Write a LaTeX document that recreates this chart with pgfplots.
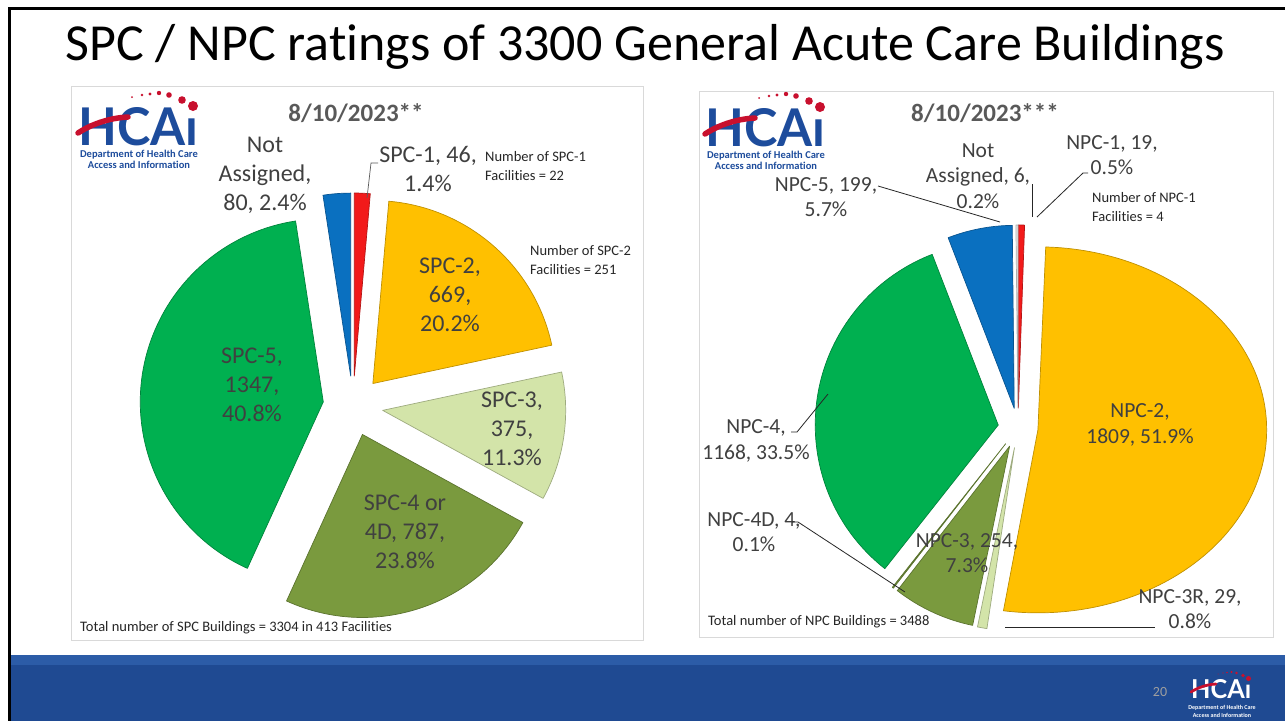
\documentclass[border=0pt]{standalone}
\usepackage{pgfplots}
\pgfplotsset{compat=1.18}
\usepackage{pgfplotstable}
\usepackage{fontspec}
\usepackage{graphicx}
\setmainfont{Carlito}[Ligatures=NoCommon]
\newfontfamily\logofont{Lato}

\definecolor{cRed}{HTML}{F21A1A}
\definecolor{cYellow}{HTML}{FFC000}
\definecolor{cLight}{HTML}{D3E4A9}
\definecolor{cOlive}{HTML}{7A9A3E}
\definecolor{cGreen}{HTML}{00B050}
\definecolor{cBlue}{HTML}{0A70C0}
\definecolor{cGray}{HTML}{E8E8E8}
\definecolor{lblgray}{HTML}{404040}
\definecolor{dategray}{HTML}{595959}
\definecolor{logoblue}{HTML}{1D4C9C}
\definecolor{logored}{HTML}{C8102E}
\definecolor{bandtop}{HTML}{2C5CA7}
\definecolor{band}{HTML}{1F4A92}
\definecolor{panel}{HTML}{D9D9D9}

\pgfplotstableread{
name value color sx
SPC1 46 cRed 1
SPC2 669 cYellow 1
SPC3 375 cLight 1
SPC4 787 cOlive 1
SPC5 1347 cGreen 1
NA 80 cBlue 1
}\spctable

\pgfplotstableread{
name value color sx
NPC1 19 cRed 1
NPC2 1809 cYellow 1.25
NPC3R 29 cLight 1
NPC3 254 cOlive 1
NPC4D 4 cOlive 1
NPC4 1168 cGreen 1
NPC5 199 cBlue 1
NA 6 cGray 1
}\npctable

% #1 table, #2 cx, #3 cy, #4 r, #5 explode, #6 total
\newcommand\drawpie[6]{%
  \pgfplotstablegetrowsof{#1}%
  \pgfmathtruncatemacro\lastrow{\pgfplotsretval-1}%
  \gdef\piecum{0}%
  \foreach \i in {0,...,\lastrow}{%
    \pgfplotstablegetelem{\i}{value}\of{#1}\let\pval\pgfplotsretval
    \pgfplotstablegetelem{\i}{color}\of{#1}\let\pcol\pgfplotsretval
    \pgfplotstablegetelem{\i}{sx}\of{#1}\let\psx\pgfplotsretval
    \pgfmathsetmacro\aA{90-360*(\piecum/#6)}%
    \pgfmathsetmacro\aB{90-360*((\piecum+\pval)/#6)}%
    \pgfmathsetmacro\aM{(\aA+\aB)/2}%
    \pgfmathsetmacro\vx{#2+#5*cos(\aM)}%
    \pgfmathsetmacro\vy{#3-#5*sin(\aM)}%
    \pgfmathsetmacro\rx{#4*\psx}%
    \fill[fill=\pcol, draw=\pcol!75!black, line width=0.7pt, line join=round]
      (axis cs:\vx,\vy) -- ++(\aA:\rx pt and #4 pt)
      arc[start angle=\aA, end angle=\aB, x radius=\rx pt, y radius=#4 pt] -- cycle;
    \pgfmathsetmacro\newcum{\piecum+\pval}%
    \xdef\piecum{\newcum}%
  }%
}

% logo: #1 x, #2 y, #3 scale, #4 text colour
\newcommand\hcai[4]{%
  \begin{scope}[shift={(axis cs:#1,#2)}, x=#3pt, y=-#3pt]
    \pgfmathsetlengthmacro\lw{120pt*#3}%
    \pgfmathsetlengthmacro\lh{38pt*#3}%
    \node[anchor=north west, inner sep=0, text=#4] at (0,0)
      {\resizebox{\lw}{\lh}{\logofont\bfseries HCA\i}};
    \draw[logored, line width=#3*5.5pt, line cap=round]
      (0,26) .. controls (12,18) and (30,11) .. (50,10);
    \fill[logored] (54,-10) circle[radius=1];
    \fill[logored] (64,-12) circle[radius=1.3];
    \fill[logored] (72,-13) circle[radius=1.7];
    \fill[logored] (81,-14) circle[radius=2.2];
    \fill[logored] (91,-12) circle[radius=2.8];
    \fill[logored] (104,-7) circle[radius=3.8];
    \fill[logored] (115,-1) circle[radius=5];
  \end{scope}%
}

\begin{document}
\begin{tikzpicture}[
  lblL/.style={font=\fontsize{24}{29}\selectfont, text=lblgray, align=center, inner sep=0},
  lblR/.style={font=\fontsize{21.5}{25.5}\selectfont, text=lblgray, align=center, inner sep=0},
  small/.style={font=\fontsize{14.5}{19}\selectfont, text=black!85, align=left, anchor=west, inner sep=0},
  date/.style={font=\bfseries\fontsize{25}{28}\selectfont, text=dategray, inner sep=0},
  sub/.style={font=\bfseries\fontsize{10.5}{10.5}\selectfont, text=logoblue, inner sep=0}]
\begin{axis}[width=1285pt,height=721pt,scale only axis,
  xmin=0,xmax=1285,ymin=0,ymax=721,y dir=reverse,hide axis,clip=false]
\pgfplotsextra{
  \fill[white] (axis cs:0,0) rectangle (axis cs:1285,721);
  % slide frame
  \fill[bandtop] (axis cs:10,655) rectangle (axis cs:1285,665);
  \fill[band] (axis cs:10,665) rectangle (axis cs:1285,721);
  \fill[black] (axis cs:8,7) rectangle (axis cs:1285,9.5);
  \fill[black] (axis cs:8,7) rectangle (axis cs:10.5,721);
  % title
  \node[font=\fontsize{52}{60}\selectfont, inner sep=0, anchor=base] at (axis cs:645,60)
    {SPC / NPC ratings of 3300 General Acute Care Buildings};
  % panels
  \draw[panel, line width=1pt] (axis cs:71,86) rectangle (axis cs:643,640);
  \draw[panel, line width=1pt] (axis cs:699,91) rectangle (axis cs:1273,637);
  % pies
  \drawpie{\spctable}{353}{406}{183}{30}{3304}
  \drawpie{\npctable}{1018}{428}{183}{20}{3488}
  % logos
  \hcai{78}{107}{1}{logoblue}
  \node[sub] at (axis cs:139,155) {Department of Health Care};
  \node[sub] at (axis cs:139,165) {Access and Information};
  \hcai{705}{108}{1}{logoblue}
  \node[sub] at (axis cs:766,156) {Department of Health Care};
  \node[sub] at (axis cs:766,166) {Access and Information};
  \hcai{1191}{679}{0.5}{white}
  \node[sub, text=white, font=\bfseries\fontsize{6}{6}\selectfont] at (axis cs:1222,708) {Department of Health Care};
  \node[sub, text=white, font=\bfseries\fontsize{6}{6}\selectfont] at (axis cs:1222,715) {Access and Information};
  \node[text=gray!75, font=\fontsize{14}{14}\selectfont, inner sep=0] at (axis cs:1160,692) {20};
  % left labels
  \node[date] at (axis cs:356,113) {8/10/2023**};
  \node[lblL] at (axis cs:265,175) {Not\\Assigned,\\80, 2.4\%};
  \node[lblL] at (axis cs:428,169) {SPC-1, 46,\\1.4\%};
  \node[lblL] at (axis cs:450,295) {SPC-2,\\669,\\20.2\%};
  \node[lblL] at (axis cs:512,429) {SPC-3,\\375,\\11.3\%};
  \node[lblL] at (axis cs:405,532) {SPC-4 or\\4D, 787,\\23.8\%};
  \node[lblL] at (axis cs:252,385) {SPC-5,\\1347,\\40.8\%};
  \node[small] at (axis cs:485,166) {Number of SPC-1\\Facilities = 22};
  \node[small] at (axis cs:530,260) {Number of SPC-2\\Facilities = 251};
  \node[small] at (axis cs:80,628) {Total number of SPC Buildings = 3304 in 413 Facilities};
  \draw[gray!70!black, line width=0.7pt] (axis cs:367,198) -- (axis cs:371,163) -- (axis cs:378,163);
  % right labels
  \node[date] at (axis cs:985,113) {8/10/2023***};
  \node[lblR] at (axis cs:978,176) {Not\\Assigned, 6,\\0.2\%};
  \node[lblR] at (axis cs:826,197) {NPC-5, 199,\\5.7\%};
  \node[lblR] at (axis cs:1112,155) {NPC-1, 19,\\0.5\%};
  \node[small] at (axis cs:1092,207) {Number of NPC-1\\Facilities = 4};
  \node[lblR] at (axis cs:756,441) {NPC-4,\\1168, 33.5\%};
  \node[lblR] at (axis cs:1140,425) {NPC-2,\\1809, 51.9\%};
  \node[lblR] at (axis cs:754,532) {NPC-4D, 4,\\0.1\%};
  \node[lblR] at (axis cs:967,553) {NPC-3, 254,\\7.3\%};
  \node[lblR] at (axis cs:1190,609) {NPC-3R, 29,\\0.8\%};
  \node[small] at (axis cs:708,622) {Total number of NPC Buildings = 3488};
  \draw[black!85, line width=0.8pt] (axis cs:878,186) -- (axis cs:1000,222);
  \draw[black!85, line width=0.8pt] (axis cs:1032,184) -- (axis cs:1032,217);
  \draw[black!85, line width=0.8pt] (axis cs:1088,173) -- (axis cs:1083,173) -- (axis cs:1037,217);
  \draw[black!85, line width=0.8pt] (axis cs:791,432) -- (axis cs:797,432) -- (axis cs:828,394);
  \draw[black!85, line width=0.8pt] (axis cs:792,522) -- (axis cs:798,522) -- (axis cs:905,592);
  \draw[black!85, line width=0.8pt] (axis cs:1005,627) -- (axis cs:1155,627);
}
\end{axis}
\end{tikzpicture}
\end{document}
